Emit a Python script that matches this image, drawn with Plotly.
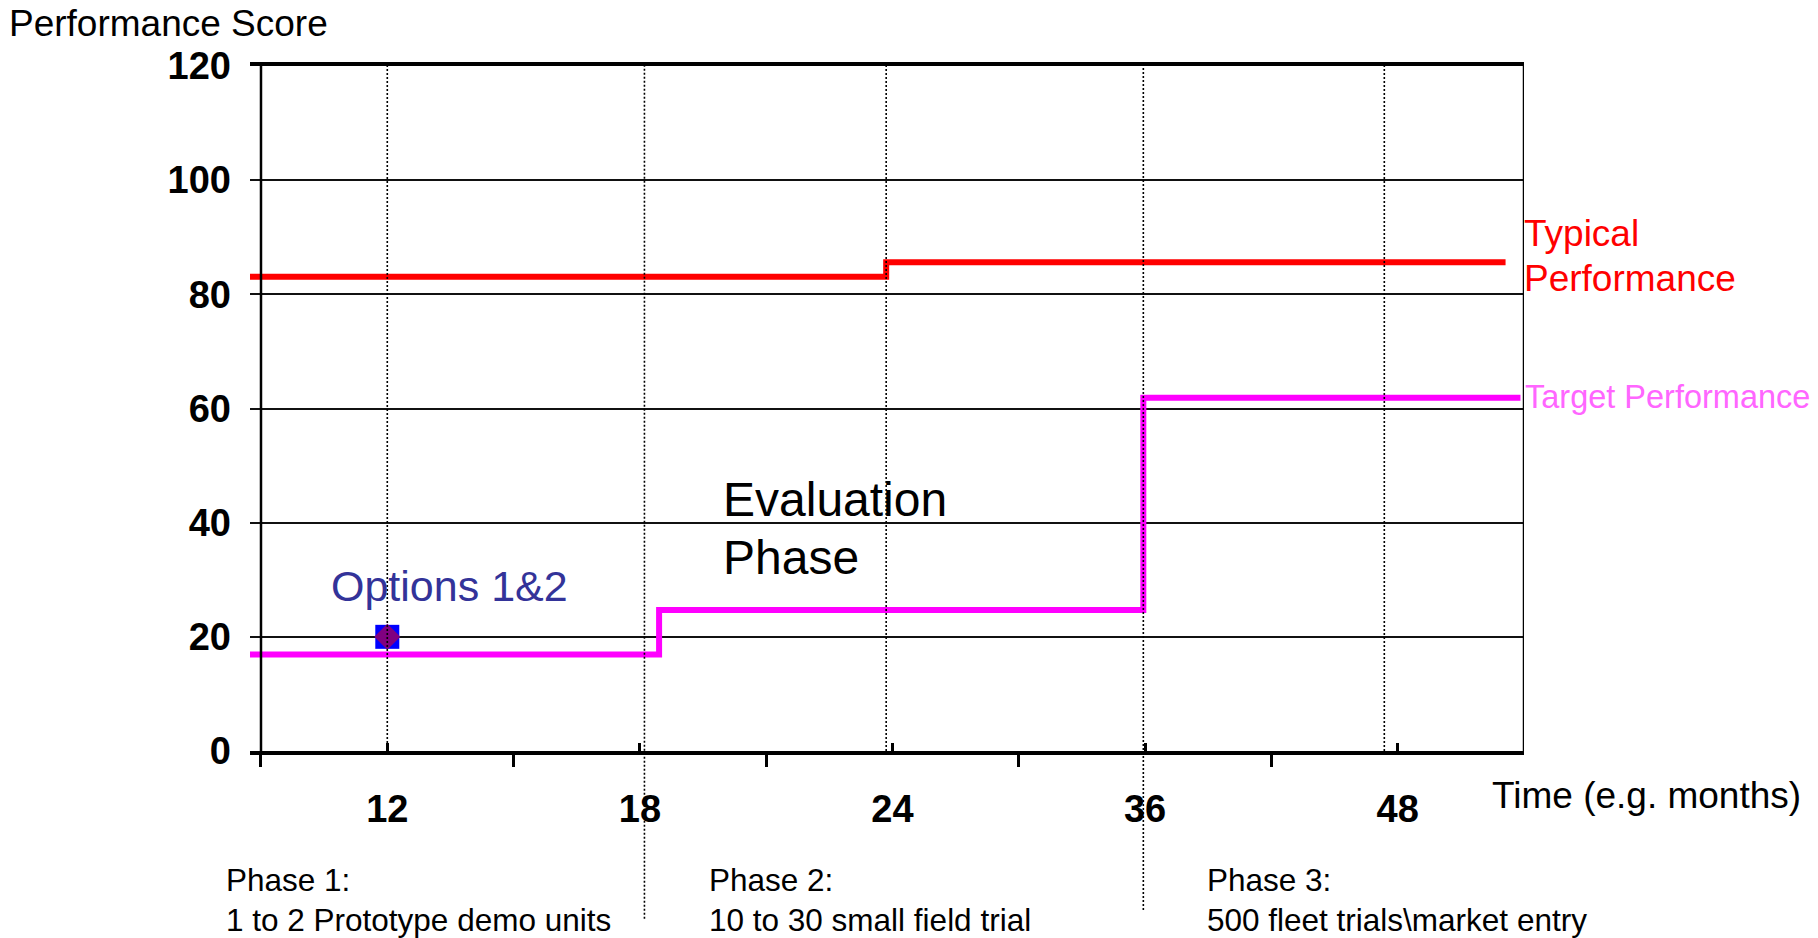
import plotly.graph_objects as go

# ---- data -------------------------------------------------------------
month_labels = ["12", "18", "24", "36", "48"]
month_pos = [0, 1, 2, 3, 4]

# step lines: x = start of each level (category units), y = level
typical_x = [-0.5435, 1.975, 4.427]
typical_y = [83.1, 85.6, 85.6]

target_x = [-0.5435, 1.076, 2.993, 4.486]
target_y = [16.9, 24.7, 61.9, 61.9]

options_x = [0]
options_y = [20]

# dotted phase / milestone markers (category units) and their lower end (paper y)
milestone_x = [0, 1.018, 1.975, 2.993, 3.947]
milestone_bottom = [0, -0.245, 0, -0.232, 0]

y_ticks = [0, 20, 40, 60, 80, 100, 120]

# ---- page geometry ----------------------------------------------------
W, H = 1818, 938
L, R, T, B = 250, 294, 66, 187
PW, PH = W - L - R, H - T - B
FONT = "Liberation Sans, Arial, sans-serif"


def px(x):
    return (x - L) / PW


def py(y):
    return (H - B - y) / PH


fig = go.Figure()

fig.add_trace(go.Scatter(
    x=typical_x, y=typical_y, mode="lines", line_shape="hv",
    line=dict(color="#FF0000", width=6), showlegend=False, hoverinfo="skip"))

fig.add_trace(go.Scatter(
    x=target_x, y=target_y, mode="lines", line_shape="hv",
    line=dict(color="#FF00FF", width=6), showlegend=False, hoverinfo="skip"))

fig.add_trace(go.Scatter(
    x=options_x, y=options_y, mode="markers",
    marker=dict(symbol="square", size=24, color="#0000FF", line=dict(width=0)),
    showlegend=False, hoverinfo="skip", cliponaxis=False))
fig.add_trace(go.Scatter(
    x=options_x, y=options_y, mode="markers",
    marker=dict(symbol="diamond", size=20, color="#800080", line=dict(width=0)),
    showlegend=False, hoverinfo="skip", cliponaxis=False))

shapes = []
for mx, mb in zip(milestone_x, milestone_bottom):
    shapes.append(dict(type="line", xref="x", yref="paper", x0=mx, x1=mx,
                       y0=mb, y1=1, layer="above",
                       line=dict(color="black", width=1.6, dash="2px,2px")))
# plot frame: left value axis and right border
for bx in (-0.5, 4.5):
    shapes.append(dict(type="line", xref="x", yref="paper", x0=bx, x1=bx,
                       y0=0, y1=1, layer="above",
                       line=dict(color="black", width=2.5)))

annotations = []


def label(text, x, y, size, color="black", xanchor="left", bold=False):
    annotations.append(dict(
        text=f"<b>{text}</b>" if bold else text,
        xref="paper", yref="paper", x=px(x), y=py(y),
        xanchor=xanchor, yanchor="middle", showarrow=False,
        font=dict(family=FONT, size=size, color=color)))


label("Performance Score", 7, 23, 37)
label("Options 1&2", 449, 586, 43, color="#333399", xanchor="center")
label("Evaluation", 721, 499, 48)
label("Phase", 721, 557, 48)
label("Typical", 1522, 234, 37, color="#FF0000")
label("Performance", 1522, 278, 37, color="#FF0000")
label("Target Performance", 1523, 397, 32.5, color="#FF66FF")
label("Time (e.g. months)", 1490, 795, 37)
label("Phase 1:", 224, 880, 31.5)
label("1 to 2 Prototype demo units", 224, 920, 31.5)
label("Phase 2:", 707, 880, 31.5)
label("10 to 30 small field trial", 707, 920, 31.5)
label("Phase 3:", 1205, 880, 31.5)
label("500 fleet trials\\market entry", 1205, 920, 31.5)

fig.update_layout(
    width=W, height=H,
    margin=dict(l=L, r=R, t=T, b=B, pad=0),
    paper_bgcolor="white", plot_bgcolor="white",
    shapes=shapes, annotations=annotations,
    xaxis=dict(
        range=[-0.5435, 4.5], tickmode="array", tickvals=month_pos,
        ticktext=month_labels, ticks="inside", ticklen=8, tickwidth=2.5,
        tickcolor="black", showgrid=False, zeroline=False,
        showline=True, linecolor="black", linewidth=3.5, mirror=True,
        tickfont=dict(family=FONT, size=38, color="black", weight="bold"),
        ticklabelstandoff=22,
        minor=dict(tickmode="array", tickvals=[-0.5, 0.5, 1.5, 2.5, 3.5, 4.5],
                   ticks="outside", ticklen=12, tickwidth=2.5, tickcolor="black",
                   showgrid=False),
    ),
    yaxis=dict(
        range=[0, 120], tickmode="array", tickvals=y_ticks,
        ticks="", showgrid=True, gridcolor="#111111", gridwidth=1.8,
        zeroline=False, showline=False,
        tickfont=dict(family=FONT, size=38, color="black", weight="bold"),
        ticklabelstandoff=18,
    ),
)

fig.write_html("out.html")
